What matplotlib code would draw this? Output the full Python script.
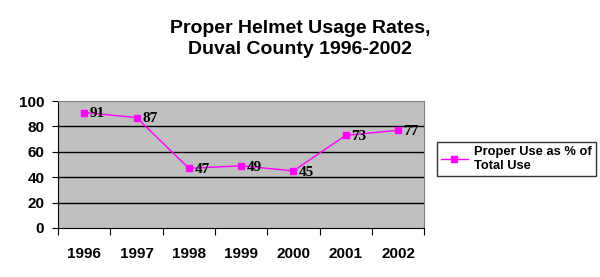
import matplotlib
matplotlib.use('Agg')
import matplotlib.pyplot as plt
import numpy as np

years = ['1996', '1997', '1998', '1999', '2000', '2001', '2002']
proper_use = [91, 87, 47, 49, 45, 73, 77]
y_ticks = [0, 20, 40, 60, 80, 100]

fig = plt.figure(figsize=(6.0, 2.77), dpi=100)
ax = fig.add_axes([0.097, 0.177, 0.61, 0.458])
ax.set_facecolor('#c0c0c0')

x = np.arange(len(years))
ax.plot(x, proper_use, color='#ff00ff', lw=1, marker='s', ms=5,
        mec='#ff00ff', mfc='#ff00ff', label='Proper Use as % of\nTotal Use', zorder=3)
for xi, v in zip(x, proper_use):
    ax.annotate(str(v), (xi, v), xytext=(4, -1), textcoords='offset points',
                va='center', ha='left', fontsize=11, fontweight='bold',
                family='Liberation Serif', color='black', zorder=4)

ax.set_xlim(-0.5, len(years) - 0.5)
ax.set_ylim(0, 100)
ax.set_yticks(y_ticks)
ax.set_yticklabels([str(t) for t in y_ticks], fontsize=11, fontweight='bold',
                   family='Liberation Sans')
for t in y_ticks[1:-1]:
    ax.axhline(t, color='black', lw=1, zorder=1)

ax.set_xticks(np.arange(-0.5, len(years), 1.0))
ax.set_xticklabels([])
ax.set_xticks(x, minor=True)
ax.set_xticklabels(years, minor=True, fontsize=11, fontweight='bold',
                   family='Liberation Sans')
ax.tick_params(axis='x', which='minor', length=0, pad=14)
ax.tick_params(axis='x', which='major', length=5, direction='out', color='black')
ax.tick_params(axis='y', length=4, direction='out', color='black', pad=6)

for side in ['top', 'right']:
    ax.spines[side].set_color('#808080')
for side in ['left', 'bottom']:
    ax.spines[side].set_color('black')

fig.text(0.5, 0.86, 'Proper Helmet Usage Rates,\nDuval County 1996-2002',
         ha='center', va='center', fontsize=14, fontweight='bold',
         family='Liberation Sans', linespacing=1.3)

leg = fig.legend(loc='upper left', bbox_to_anchor=(0.728, 0.487),
                 prop={'family': 'Liberation Sans', 'weight': 'bold', 'size': 9.3},
                 frameon=True, fancybox=False, edgecolor='black',
                 handlelength=2.1, handletextpad=0.5, borderpad=0.3,
                 borderaxespad=0, markerscale=0.8)
leg.get_frame().set_linewidth(1)

fig.savefig('out.png', dpi=100)
